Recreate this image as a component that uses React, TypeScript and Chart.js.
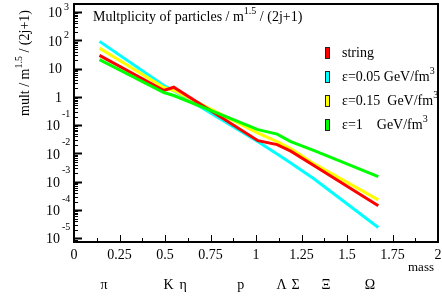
import React, { useEffect, useRef } from "react";
import { Chart, registerables } from "chart.js";

Chart.register(...registerables);

// ---- data ----
const masses = [0.14, 0.494, 0.548, 1.011, 1.116, 1.191, 1.32, 1.672];
const stringMult = [29.4, 1.69, 2.2, 0.0284, 0.0205, 0.0121, 0.00369, 1.41e-4];
const eps005Mult = [92, 2.54, 1.64, 0.026, 0.0096, 0.0046, 0.00125, 2.4e-5];
const eps015Mult = [53, 2.15, 1.69, 0.0525, 0.0263, 0.0148, 0.00427, 2.29e-4];
const eps1Mult = [20.7, 1.43, 1.12, 0.0698, 0.0483, 0.0263, 0.0126, 0.00151];

const seriesNames = ["string", "ε=0.05 GeV/fm", "ε=0.15  GeV/fm", "ε=1    GeV/fm"];
const seriesSup = ["", "3", "3", "3"];
const seriesColors = ["#ff0000", "#00ffff", "#ffff00", "#00ff00"];
const seriesOrder = [2, 4, 3, 1];

const particleLabels = ["π", "K", "η", "p", "Λ", "Σ", "Ξ", "Ω"];
const particleLabelPos = [0.165, 0.52, 0.6, 0.916, 1.14, 1.218, 1.385, 1.626];

const xTickValues = [0, 0.25, 0.5, 0.75, 1, 1.25, 1.5, 1.75, 2];
const xTickLabels = ["0", "0.25", "0.5", "0.75", "1", "1.25", "1.5", "1.75", "2"];
const yDecades = [-5, -4, -3, -2, -1, 0, 1, 2, 3];

const titleParts = [
  { t: "Multplicity of particles / m", sup: false },
  { t: "1.5", sup: true },
  { t: " / (2j+1)", sup: false },
];
const yTitleParts = [
  { t: "mult / m", sup: false },
  { t: "1.5", sup: true },
  { t: " / (2j+1)", sup: false },
];
const xTitle = "mass";

const FONT = "'Liberation Serif', 'DejaVu Serif', serif";
const BASE = `14px ${FONT}`;
const SUP = `10px ${FONT}`;

type Part = { t: string; sup: boolean };

function richWidth(ctx: CanvasRenderingContext2D, parts: Part[]) {
  let w = 0;
  for (const p of parts) {
    ctx.font = p.sup ? SUP : BASE;
    w += ctx.measureText(p.t).width;
  }
  return w;
}

function drawRich(ctx: CanvasRenderingContext2D, parts: Part[], x: number, y: number, rise = 6) {
  let cx = x;
  ctx.textAlign = "left";
  ctx.textBaseline = "middle";
  for (const p of parts) {
    ctx.font = p.sup ? SUP : BASE;
    ctx.fillText(p.t, cx, p.sup ? y - rise : y);
    cx += ctx.measureText(p.t).width;
  }
}

const rootStyle = {
  id: "rootStyle",
  afterDraw(chart: any) {
    const ctx: CanvasRenderingContext2D = chart.ctx;
    const xs = chart.scales.x;
    const ys = chart.scales.y;
    const { left, right, top, bottom } = chart.chartArea;
    ctx.save();
    ctx.fillStyle = "#000";
    ctx.strokeStyle = "#000";

    // frame
    ctx.lineWidth = 2;
    ctx.strokeRect(left, top, right - left, bottom - top);

    // y ticks
    for (let d = -6; d <= 3; d++) {
      for (let k = 1; k < 10; k++) {
        const v = k * Math.pow(10, d);
        if (v < ys.min || v > ys.max) continue;
        const py = Math.round(ys.getPixelForValue(v)) + 0.5;
        const major = k === 1;
        ctx.lineWidth = major ? 2 : 1;
        ctx.beginPath();
        ctx.moveTo(left, py);
        ctx.lineTo(left + (major ? 8 : 4), py);
        ctx.stroke();
      }
    }
    // x ticks
    for (let i = 0; i < xTickValues.length; i++) {
      const v = xTickValues[i];
      const px = Math.round(xs.getPixelForValue(v)) + 0.5;
      ctx.lineWidth = 1;
      ctx.beginPath();
      ctx.moveTo(px, bottom);
      ctx.lineTo(px, bottom - 7);
      ctx.stroke();
      if (i < xTickValues.length - 1) {
        const mv = (v + xTickValues[i + 1]) / 2;
        const mx = Math.round(xs.getPixelForValue(mv)) + 0.5;
        ctx.beginPath();
        ctx.moveTo(mx, bottom);
        ctx.lineTo(mx, bottom - 4);
        ctx.stroke();
      }
    }

    // x tick labels
    ctx.font = BASE;
    ctx.textAlign = "center";
    ctx.textBaseline = "middle";
    xTickValues.forEach((v, i) => {
      ctx.fillText(xTickLabels[i], xs.getPixelForValue(v), bottom + 13);
    });

    // y tick labels
    yDecades.forEach((d) => {
      const py = ys.getPixelForValue(Math.pow(10, d));
      ctx.textBaseline = "middle";
      if (d === 0 || d === 1) {
        ctx.font = BASE;
        ctx.textAlign = "right";
        ctx.fillText(d === 0 ? "1" : "10", 62, py + 1);
      } else {
        const neg = d < 0;
        const baseRight = neg ? 60 : 62;
        ctx.font = BASE;
        ctx.textAlign = "right";
        ctx.fillText("10", baseRight, py + 1.5);
        ctx.font = SUP;
        ctx.textAlign = "left";
        ctx.fillText(String(d), baseRight + 2, py - (neg ? 11 : 5));
      }
    });

    // x title
    ctx.font = `13px ${FONT}`;
    ctx.textAlign = "right";
    ctx.textBaseline = "middle";
    ctx.fillText(xTitle, 434, 268);

    // particle labels
    ctx.font = BASE;
    ctx.textAlign = "center";
    particleLabels.forEach((l, i) => {
      ctx.fillText(l, xs.getPixelForValue(particleLabelPos[i]), 285);
    });

    // title
    drawRich(ctx, titleParts, 93, 17, 6);

    // y title (rotated)
    ctx.save();
    ctx.translate(25, 63);
    ctx.rotate(-Math.PI / 2);
    const w = richWidth(ctx, yTitleParts);
    drawRich(ctx, yTitleParts, -w / 2, 0, 6);
    ctx.restore();

    // legend
    chart.data.datasets.forEach((ds: any, i: number) => {
      const ly = 53 + i * 24;
      ctx.fillStyle = ds.borderColor;
      ctx.fillRect(326, ly - 5, 3, 10);
      ctx.strokeStyle = "#222";
      ctx.lineWidth = 1;
      ctx.strokeRect(325.5, ly - 5.5, 4, 11);
      ctx.fillStyle = "#000";
      const parts: Part[] = [{ t: ds.label, sup: false }];
      if (seriesSup[i]) parts.push({ t: seriesSup[i], sup: true });
      drawRich(ctx, parts, 342, ly, 6);
    });

    ctx.restore();
  },
};

export default function App() {
  const ref = useRef<HTMLCanvasElement | null>(null);

  useEffect(() => {
    document.body.style.margin = "0";
    const canvas = ref.current;
    if (!canvas) return;
    const all = [stringMult, eps005Mult, eps015Mult, eps1Mult];
    const chart = new Chart(canvas, {
      type: "line",
      data: {
        datasets: all.map((vals, i) => ({
          label: seriesNames[i],
          data: masses.map((m, j) => ({ x: m, y: vals[j] })),
          borderColor: seriesColors[i],
          backgroundColor: seriesColors[i],
          borderWidth: 3,
          pointRadius: 0,
          tension: 0,
          fill: false,
          order: seriesOrder[i],
        })),
      },
      options: {
        animation: false,
        responsive: false,
        maintainAspectRatio: false,
        devicePixelRatio: 1,
        layout: { padding: { left: 0, right: 4, top: 4, bottom: 0 } },
        plugins: { legend: { display: false }, tooltip: { enabled: false }, title: { display: false } },
        scales: {
          x: {
            type: "linear",
            min: 0,
            max: 2,
            grid: { display: false },
            border: { display: false },
            ticks: { display: false },
            afterFit: (s: any) => {
              s.height = 57;
            },
          },
          y: {
            type: "logarithmic",
            min: 7.4e-6,
            max: 1930,
            grid: { display: false },
            border: { display: false },
            ticks: { display: false },
            afterFit: (s: any) => {
              s.width = 74;
            },
          },
        },
      },
      plugins: [rootStyle],
    });
    return () => chart.destroy();
  }, []);

  return (
    <div style={{ width: 442, height: 299, background: "#fff" }}>
      <canvas ref={ref} width={442} height={299} style={{ display: "block" }} />
    </div>
  );
}
